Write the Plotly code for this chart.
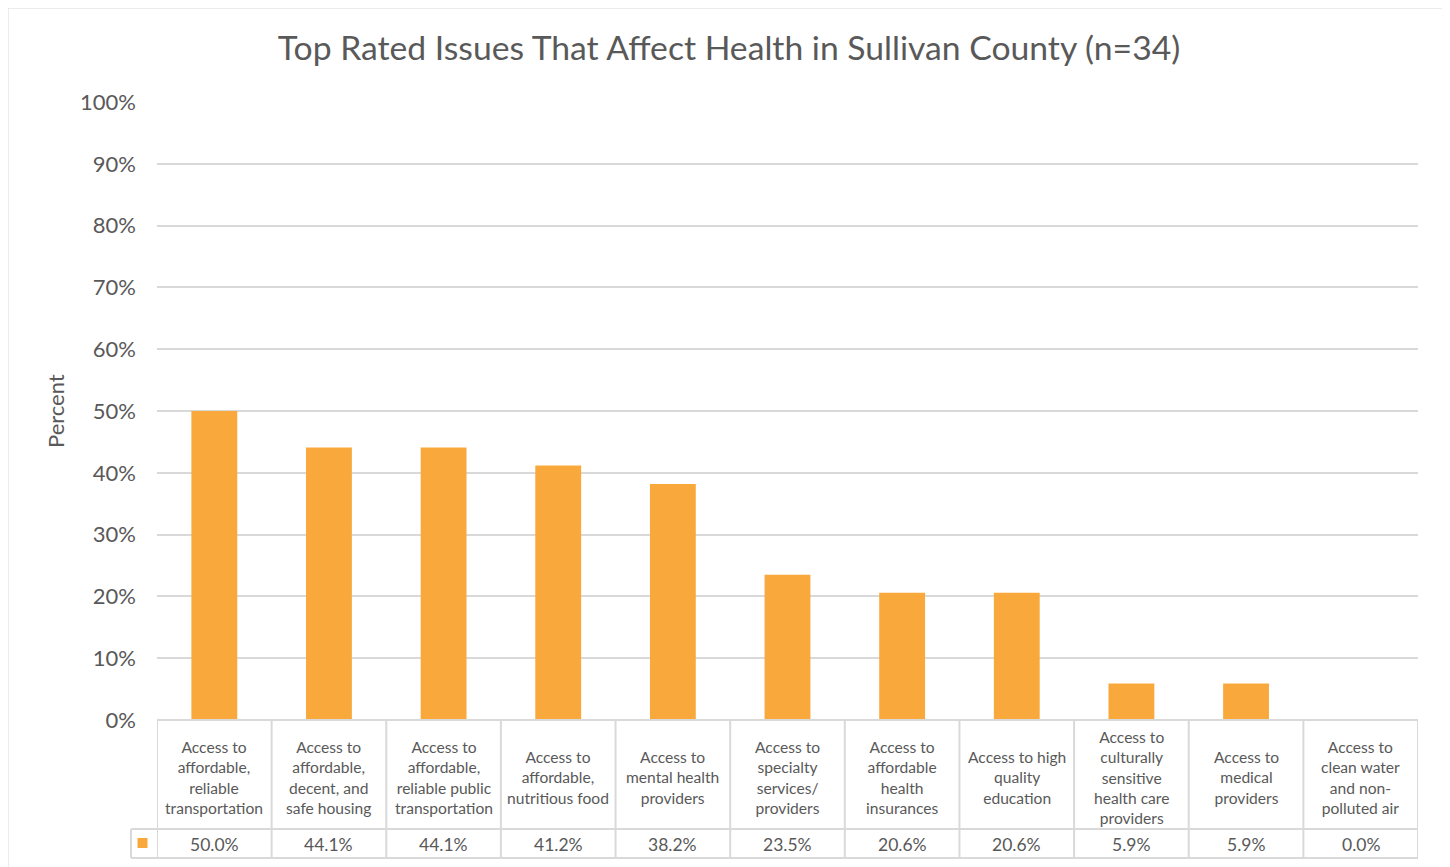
import plotly.graph_objects as go

categories = [
    "Access to<br>affordable,<br>reliable<br>transportation",
    "Access to<br>affordable,<br>decent, and<br>safe housing",
    "Access to<br>affordable,<br>reliable public<br>transportation",
    "Access to<br>affordable,<br>nutritious food",
    "Access to<br>mental health<br>providers",
    "Access to<br>specialty<br>services/<br>providers",
    "Access to<br>affordable<br>health<br>insurances",
    "Access to high<br>quality<br>education",
    "Access to<br>culturally<br>sensitive<br>health care<br>providers",
    "Access to<br>medical<br>providers",
    "Access to<br>clean water<br>and non-<br>polluted air",
]
values = [50.0, 44.1, 44.1, 41.2, 38.2, 23.5, 20.6, 20.6, 5.9, 5.9, 0.0]
value_labels = ["50.0%", "44.1%", "44.1%", "41.2%", "38.2%", "23.5%", "20.6%", "20.6%", "5.9%", "5.9%", "0.0%"]
y_ticks = [0, 10, 20, 30, 40, 50, 60, 70, 80, 90, 100]
title_text = "Top Rated Issues That Affect Health in Sullivan County (n=34)"
y_title = "Percent"

BAR = "#F9A93B"
TXT = "#595959"
GRID = "#D9D9D9"
FONT = "Century Gothic, Lato, sans-serif"

OFF = 8  # page body margin offset
W, H = 1450 - OFF, 867 - OFF
L, R, T, B = 157 - OFF, 1418 - OFF, 102 - OFF, 720 - OFF
PH = B - T
PW = R - L
n = len(categories)
cw = PW / n

def py(pix):  # screen pixel y -> paper y
    return (B - (pix - OFF)) / PH

def px(pix):  # screen pixel x -> paper x
    return ((pix - OFF) - L) / PW

xs = list(range(n))

fig = go.Figure()
fig.add_bar(x=xs, y=values, marker=dict(color=BAR, line=dict(width=0)), width=0.4,
            hoverinfo="skip")

shapes = []
line = dict(color=GRID, width=2)
row1 = py(829)
row2 = py(858)
key_left = px(131)
for i in range(n + 1):
    shapes.append(dict(type="line", xref="x", yref="paper", x0=i - 0.5, x1=i - 0.5,
                       y0=0, y1=row2, line=line))
shapes.append(dict(type="line", xref="paper", yref="paper", x0=key_left, x1=key_left,
                   y0=row1, y1=row2, line=line))
shapes.append(dict(type="line", xref="paper", yref="paper", x0=0, x1=1, y0=0, y1=0, line=line))
shapes.append(dict(type="line", xref="paper", yref="paper", x0=key_left, x1=1, y0=row1, y1=row1, line=line))
shapes.append(dict(type="line", xref="paper", yref="paper", x0=key_left, x1=1, y0=row2, y1=row2, line=line))
shapes.append(dict(type="rect", xref="paper", yref="paper", xsizemode="pixel", ysizemode="pixel",
                   xanchor=px(142.5), yanchor=py(843), x0=-5, x1=5, y0=-5, y1=5,
                   fillcolor=BAR, line=dict(width=0)))
shapes.append(dict(type="rect", xref="paper", yref="paper", x0=px(7.5), x1=px(1446.5),
                   y0=py(885), y1=py(7.5), line=dict(color=GRID, width=2), fillcolor="rgba(0,0,0,0)"))

annotations = []
for i, (c, v) in enumerate(zip(categories, value_labels)):
    annotations.append(dict(x=i, y=py(777), xref="x", yref="paper", text=c, showarrow=False,
                            xanchor="center", yanchor="middle", align="center",
                            font=dict(family=FONT, size=15.6, color=TXT)))
    annotations.append(dict(x=i, y=py(844), xref="x", yref="paper", text=v, showarrow=False,
                            xanchor="center", yanchor="middle",
                            font=dict(family=FONT, size=17.5, color=TXT)))
annotations.append(dict(x=px(55), y=py(411), xref="paper", yref="paper", text=y_title,
                        showarrow=False, textangle=-90, xanchor="center", yanchor="middle",
                        font=dict(family=FONT, size=22, color=TXT)))

fig.update_layout(
    width=W, height=H,
    margin=dict(l=L, r=W - R, t=T, b=H - B),
    paper_bgcolor="white", plot_bgcolor="white",
    title=dict(text=title_text, x=0.5, xanchor="center", y=1 - (48 - OFF) / H, yanchor="middle",
               font=dict(family=FONT, size=33.7, color=TXT)),
    showlegend=False,
    bargap=0.6,
    shapes=shapes,
    annotations=annotations,
    xaxis=dict(range=[-0.5, n - 0.5], showticklabels=False, showgrid=False, zeroline=False,
               showline=False, ticks=""),
    yaxis=dict(range=[0, 100], tickvals=y_ticks, ticktext=[f"{t}%" for t in y_ticks],
               showgrid=True, gridcolor=GRID, gridwidth=1.5, zeroline=False, showline=False,
               ticks="", ticklabelstandoff=20,
               tickfont=dict(family=FONT, size=22, color=TXT)),
)

fig.write_html("out.html")
